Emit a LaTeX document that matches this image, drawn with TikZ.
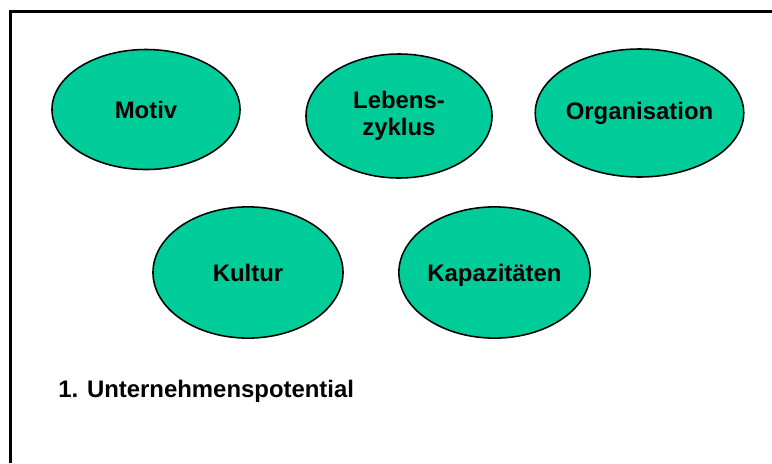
\documentclass[tikz,border=0pt]{standalone}
\usepackage{fontspec}
\setmainfont{Liberation Sans}
\usetikzlibrary{shapes.geometric}
\definecolor{tuerkis}{RGB}{0,204,153}
\tikzset{
  blase/.style={ellipse, draw=black, line width=1.1pt, fill=tuerkis,
    inner sep=0pt, align=center,
    font=\fontsize{17}{19}\selectfont\bfseries},
  rahmen/.style={line width=2.1pt}
}
\begin{document}
\begin{tikzpicture}[x=0.025cm,y=-0.025cm]
% Bildgroesse
\useasboundingbox (0,0) rectangle (772,463);

% Rahmen (rechts und unten offen)
\coordinate (RU) at (10.5,463);
\coordinate (RE) at (772,11.5);
\draw[rahmen] (RU) |- (RE);

% obere Reihe
\node[blase, minimum width=4.7cm, minimum height=3.0cm] (motiv) at (146,109.5) {Motiv};
\node[blase, minimum width=4.65cm, minimum height=3.1cm] (lebenszyklus) at (399,116) {Lebens-\\zyklus};
\node[blase, minimum width=4.78cm, minimum height=3.2cm] (organisation) at (639.5,113) {Organisation};

% untere Reihe
\node[blase, minimum width=4.75cm, minimum height=3.28cm] (kultur) at (248,272.5) {Kultur};
\node[blase, text depth=0pt, minimum width=4.78cm, minimum height=3.28cm] (kapazitaeten) at (494.5,272.5) {Kapazitäten};

% Titel
\node[anchor=base west, inner sep=0pt, font=\fontsize{17}{19}\selectfont\bfseries] (titel) at (58,397) {1. Unternehmenspotential};
\end{tikzpicture}
\end{document}
